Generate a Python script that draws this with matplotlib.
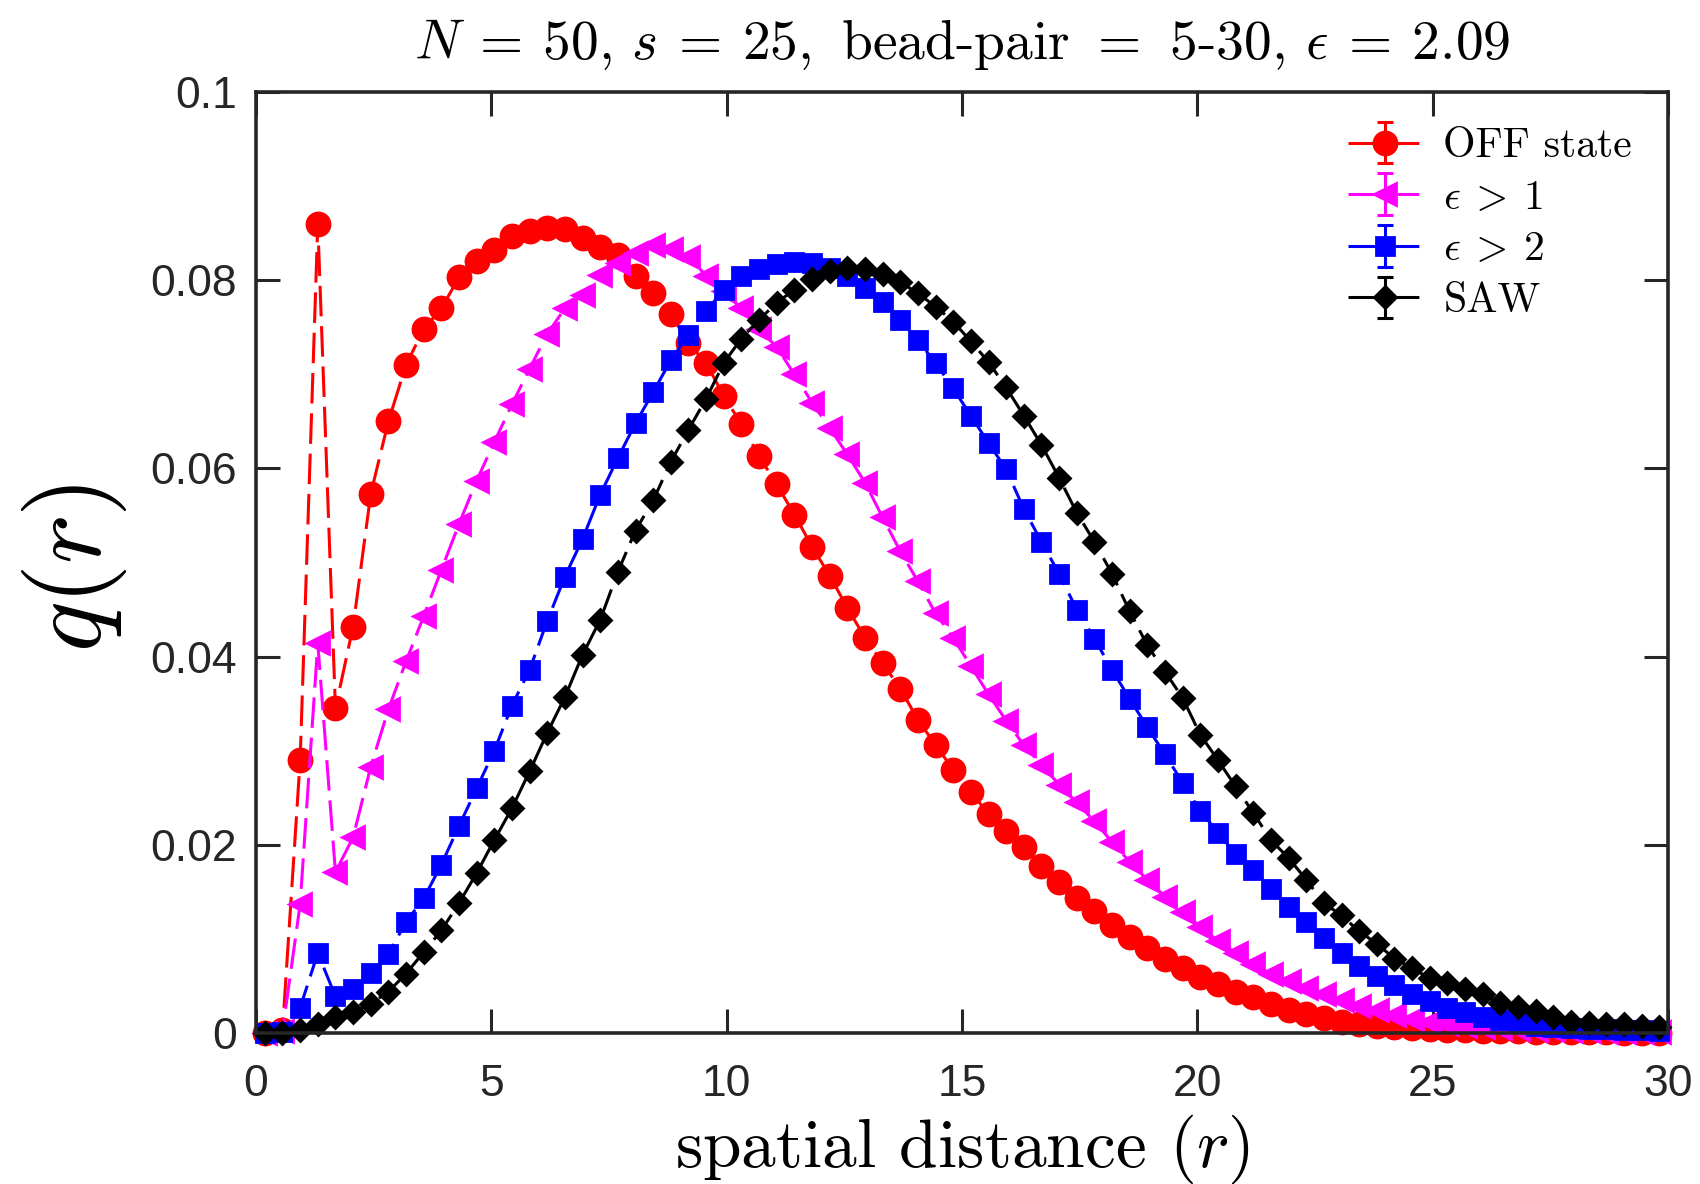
import numpy as np
import matplotlib
matplotlib.use("Agg")
import matplotlib.pyplot as plt

# ---------------- data ----------------
bin_width = 0.375
n_bins = 80
r = (np.arange(n_bins) + 0.5) * bin_width   # bin centres of the histogram

q_off = [0.0000, 0.0003, 0.0290, 0.0860, 0.0345, 0.0432, 0.0573, 0.0650, 0.0710, 0.0748,
         0.0770, 0.0803, 0.0820, 0.0832, 0.0847, 0.0852, 0.0856, 0.0854, 0.0845, 0.0835,
         0.0827, 0.0805, 0.0786, 0.0764, 0.0733, 0.0712, 0.0677, 0.0647, 0.0613, 0.0583,
         0.0551, 0.0517, 0.0486, 0.0452, 0.0420, 0.0393, 0.0366, 0.0333, 0.0306, 0.0280,
         0.0256, 0.0233, 0.0215, 0.0198, 0.0178, 0.0160, 0.0144, 0.0130, 0.0115, 0.0102,
         0.0090, 0.0079, 0.0069, 0.0060, 0.0052, 0.0044, 0.0038, 0.0031, 0.0025, 0.0020,
         0.0016, 0.0012, 0.0010, 0.0008, 0.0006, 0.0005, 0.0004, 0.0003, 0.0003, 0.0002,
         0.0002, 0.0002, 0.0001, 0.0001, 0.0001, 0.0001, 0.0001, 0.0000, 0.0000, 0.0000]

q_eps1 = [0.0000, 0.0002, 0.0137, 0.0414, 0.0171, 0.0208, 0.0283, 0.0344, 0.0395, 0.0443,
          0.0492, 0.0541, 0.0587, 0.0628, 0.0668, 0.0706, 0.0743, 0.0770, 0.0784, 0.0806,
          0.0818, 0.0829, 0.0837, 0.0833, 0.0825, 0.0805, 0.0788, 0.0770, 0.0748, 0.0729,
          0.0700, 0.0670, 0.0643, 0.0615, 0.0585, 0.0548, 0.0512, 0.0480, 0.0446, 0.0420,
          0.0390, 0.0360, 0.0332, 0.0306, 0.0285, 0.0264, 0.0245, 0.0225, 0.0203, 0.0182,
          0.0163, 0.0145, 0.0129, 0.0113, 0.0098, 0.0085, 0.0073, 0.0063, 0.0055, 0.0048,
          0.0041, 0.0035, 0.0029, 0.0024, 0.0019, 0.0015, 0.0012, 0.0010, 0.0008, 0.0006,
          0.0005, 0.0004, 0.0003, 0.0003, 0.0002, 0.0002, 0.0001, 0.0001, 0.0001, 0.0001]

q_eps2 = [0.0000, 0.0001, 0.0027, 0.0085, 0.0039, 0.0047, 0.0064, 0.0084, 0.0118, 0.0143,
          0.0179, 0.0220, 0.0260, 0.0300, 0.0348, 0.0386, 0.0438, 0.0485, 0.0525, 0.0572,
          0.0611, 0.0648, 0.0681, 0.0715, 0.0742, 0.0767, 0.0790, 0.0805, 0.0812, 0.0817,
          0.0819, 0.0818, 0.0813, 0.0804, 0.0792, 0.0777, 0.0758, 0.0736, 0.0712, 0.0685,
          0.0656, 0.0627, 0.0599, 0.0557, 0.0522, 0.0488, 0.0450, 0.0419, 0.0386, 0.0355,
          0.0325, 0.0296, 0.0266, 0.0236, 0.0213, 0.0190, 0.0173, 0.0153, 0.0134, 0.0118,
          0.0101, 0.0085, 0.0071, 0.0061, 0.0051, 0.0042, 0.0034, 0.0027, 0.0022, 0.0017,
          0.0014, 0.0011, 0.0008, 0.0006, 0.0005, 0.0004, 0.0004, 0.0003, 0.0003, 0.0002]

q_saw = [0.0000, 0.0000, 0.0003, 0.0010, 0.0017, 0.0022, 0.0031, 0.0044, 0.0063, 0.0086,
         0.0109, 0.0138, 0.0170, 0.0205, 0.0239, 0.0278, 0.0319, 0.0357, 0.0402, 0.0439,
         0.0490, 0.0534, 0.0566, 0.0607, 0.0641, 0.0674, 0.0712, 0.0738, 0.0758, 0.0776,
         0.0790, 0.0801, 0.0810, 0.0813, 0.0812, 0.0807, 0.0798, 0.0786, 0.0772, 0.0756,
         0.0735, 0.0713, 0.0686, 0.0656, 0.0625, 0.0590, 0.0553, 0.0522, 0.0488, 0.0448,
         0.0412, 0.0384, 0.0356, 0.0317, 0.0290, 0.0262, 0.0234, 0.0205, 0.0186, 0.0163,
         0.0138, 0.0125, 0.0108, 0.0095, 0.0079, 0.0069, 0.0058, 0.0053, 0.0047, 0.0042,
         0.0032, 0.0028, 0.0023, 0.0017, 0.0012, 0.0011, 0.0010, 0.0010, 0.0008, 0.0006]

# error bars are smaller than the markers in the picture
err_off = np.zeros(n_bins)
err_eps1 = np.zeros(n_bins)
err_eps2 = np.zeros(n_bins)
err_saw = np.zeros(n_bins)

labels = ["OFF state", r"$\epsilon\:>\:1$", r"$\epsilon\:>\:2$", "SAW"]
x_ticks = [0, 5, 10, 15, 20, 25, 30]
y_ticks = [0, 0.02, 0.04, 0.06, 0.08, 0.1]
y_tick_labels = ["0", "0.02", "0.04", "0.06", "0.08", "0.1"]
title = r"$N\:=\:50,\, s\:=\:25,$ bead-pair $=$ 5-30, $\epsilon\:=\:2.09$"

# ---------------- style ----------------
plt.rcParams["mathtext.fontset"] = "cm"
axis_col = "#262626"

fig = plt.figure(figsize=(8.5, 5.92), dpi=200)
ax = fig.add_axes([0.1506, 0.1275, 0.8306, 0.7948])

styles = [
    dict(color="#ff0000", marker="o", ms=8.3),
    dict(color="#ff00ff", marker="<", ms=7.6),
    dict(color="#0000ff", marker="s", ms=6.2),
    dict(color="#000000", marker="D", ms=5.8),
]
datasets = [(q_off, err_off), (q_eps1, err_eps1), (q_eps2, err_eps2), (q_saw, err_saw)]

for (q, e), st, lab in zip(datasets, styles, labels):
    cont = ax.errorbar(r, q, yerr=e, color=st["color"], marker=st["marker"],
                       ms=st["ms"], mfc=st["color"], mec=st["color"],
                       ls=(0, (10, 3.2)), lw=1.1, elinewidth=1.1, capsize=3,
                       capthick=1.1, label=lab)
    arts = [cont.lines[0], *cont.lines[1], *cont.lines[2]]
    for a in arts:
        a.set_clip_on(False)

ax.set_xlim(0, 30)
ax.set_ylim(0, 0.1)
ax.set_xticks(x_ticks)
ax.set_yticks(y_ticks)
ax.set_yticklabels(y_tick_labels)

for sp in ax.spines.values():
    sp.set_linewidth(1.3)
    sp.set_color(axis_col)
    sp.set_zorder(5)

ax.tick_params(direction="in", length=8.5, width=1.1, top=True, right=True,
               colors=axis_col, labelsize=16)
ax.tick_params(axis="x", pad=11)
ax.tick_params(axis="y", pad=7)
for t in ax.get_xticklabels() + ax.get_yticklabels():
    t.set_fontfamily("Liberation Sans")
    t.set_color(axis_col)

ax.set_title(title, fontsize=20, fontfamily="cmr10", pad=12)
ax.set_xlabel(r"spatial distance $(r)$", fontsize=25, fontfamily="cmr10")
ax.xaxis.set_label_coords(0.5, -0.1233)
ax.xaxis.label.set_va("center")
ax.set_ylabel(r"$q(r)$", fontsize=38)
ax.yaxis.set_label_coords(-0.1289, 0.4947)
ax.yaxis.label.set_va("center")

leg = ax.legend(loc="upper left", bbox_to_anchor=(0.773, 0.962), frameon=False,
                prop={"family": "cmr10", "size": 15}, handlelength=1.8,
                handletextpad=0.5, labelspacing=0.34, borderpad=0, borderaxespad=0,
                numpoints=1)

fig.savefig("out.png", dpi=200)
